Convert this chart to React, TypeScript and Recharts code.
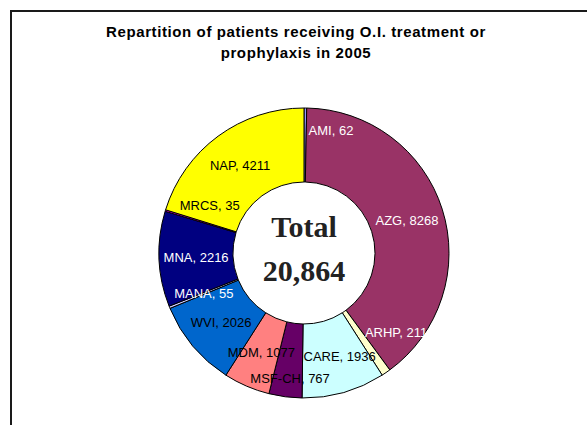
import React from 'react';
import { PieChart, Pie, Cell } from 'recharts';

const names = ['AMI', 'AZG', 'ARHP', 'CARE', 'MSF-CH', 'MDM', 'WVI', 'MANA', 'MNA', 'MRCS', 'NAP'];
const patients = [62, 8268, 211, 1936, 767, 1077, 2026, 55, 2216, 35, 4211];
const fills = ['#9999FF', '#993366', '#FFFFCC', '#CCFFFF', '#660066', '#FF8080', '#0066CC', '#CCCCFF', '#000080', '#FF00FF', '#FFFF00'];
const labelColors = ['#fff', '#fff', '#fff', '#000', '#000', '#000', '#000', '#fff', '#fff', '#000', '#000'];
const totalText = ['Total', '20,864'];

// small slices get pushed aside so their labels don't collide
const nudge: Record<string, [number, number]> = {
  AMI: [26, -15],
  ARHP: [31, -10],
  CARE: [6, 0],
  'MSF-CH': [0, 18],
  MRCS: [9, -16],
};

const data = names.map((n, i) => ({ name: n, value: patients[i] }));
const RAD = Math.PI / 180;

function renderLabel(props: any) {
  const { cx, cy, midAngle, innerRadius, outerRadius, index } = props;
  const r = (innerRadius + outerRadius) / 2;
  const n = names[index];
  const [dx, dy] = nudge[n] || [0, 0];
  const x = cx + r * Math.cos(-midAngle * RAD) + dx;
  const y = cy + r * Math.sin(-midAngle * RAD) + dy;
  return (
    <text
      x={x}
      y={y}
      textAnchor="middle"
      dominantBaseline="central"
      fill={labelColors[index]}
      style={{ fontFamily: 'Liberation Sans, Arial, sans-serif', fontSize: 13 }}
    >
      {`${n}, ${patients[index]}`}
    </text>
  );
}

export default function App() {
  return (
    <div style={{ position: 'absolute', left: 0, top: 0, width: 587, height: 425, overflow: 'hidden', background: '#fff' }}>
      <div
        style={{
          position: 'absolute',
          left: 10,
          top: 10,
          width: 600,
          height: 500,
          borderTop: '2px solid #1a1a1a',
          borderLeft: '2px solid #1a1a1a',
        }}
      />
      <div
        style={{
          position: 'absolute',
          left: 0,
          top: 21,
          width: 592,
          textAlign: 'center',
          fontFamily: 'Liberation Sans, Arial, sans-serif',
          fontWeight: 'bold',
          fontSize: 15,
          letterSpacing: 0.6,
          lineHeight: '21px',
          color: '#000',
        }}
      >
        Repartition of patients receiving O.I. treatment or
        <br />
        prophylaxis in 2005
      </div>
      <div style={{ position: 'absolute', left: 0, top: 0 }}>
        <PieChart width={587} height={425} margin={{ top: 0, right: 0, bottom: 0, left: 0 }}>
          <Pie
            data={data}
            dataKey="value"
            nameKey="name"
            cx={304}
            cy={253}
            innerRadius={71}
            outerRadius={145}
            startAngle={90}
            endAngle={-270}
            stroke="#000"
            strokeWidth={1}
            label={renderLabel}
            labelLine={false}
            isAnimationActive={false}
          >
            {data.map((d, i) => (
              <Cell key={d.name} fill={fills[i]} />
            ))}
          </Pie>
          <text
            x={304}
            y={237}
            textAnchor="middle"
            style={{ fontFamily: 'Liberation Serif, serif', fontWeight: 'bold', fontSize: 30, fill: '#222' }}
          >
            {totalText[0]}
          </text>
          <text
            x={304}
            y={281}
            textAnchor="middle"
            style={{ fontFamily: 'Liberation Serif, serif', fontWeight: 'bold', fontSize: 30, fill: '#222' }}
          >
            {totalText[1]}
          </text>
        </PieChart>
      </div>
    </div>
  );
}
